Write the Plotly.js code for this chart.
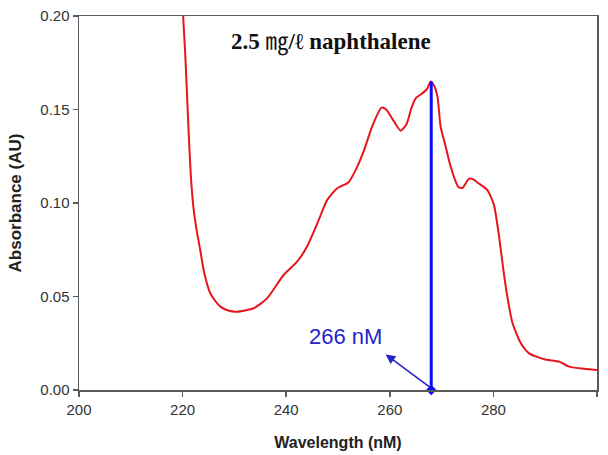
<!DOCTYPE html>
<html>
<head>
<meta charset="utf-8">
<script src="https://cdn.plot.ly/plotly-3.0.1.min.js"></script>
<style>html,body{margin:0;padding:0;background:#fff;}#chart{width:608px;height:455px;}</style>
</head>
<body>
<div id="chart"></div>
<script>
const wavelength = [219.7, 220.1, 220.5, 220.9, 221.3, 221.7, 222.2, 222.8, 223.4, 224.0, 224.7, 225.3, 226.2, 227.3, 228.8, 230.5, 233.7, 236.3, 239.5, 242.1, 244.0, 246.0, 247.9, 249.8, 252.0, 253.4, 255.0, 256.6, 258.4, 259.3, 260.5, 262.1, 263.2, 264.2, 265.0, 266.3, 267.2, 267.9, 268.5, 269.2, 269.8, 270.8, 271.8, 273.2, 274.0, 275.3, 276.2, 276.9, 278.8, 280.1, 281.1, 282.1, 283.0, 283.7, 285.3, 286.9, 289.8, 292.7, 294.6, 300.0];
const absorbance = [0.220, 0.200, 0.180, 0.155, 0.130, 0.110, 0.095, 0.084, 0.075, 0.065, 0.057, 0.052, 0.048, 0.0446, 0.0425, 0.0419, 0.0437, 0.049, 0.0615, 0.0686, 0.0766, 0.089, 0.1016, 0.1078, 0.111, 0.1176, 0.128, 0.141, 0.151, 0.150, 0.145, 0.1387, 0.142, 0.151, 0.156, 0.1587, 0.161, 0.165, 0.163, 0.157, 0.141, 0.130, 0.119, 0.1087, 0.108, 0.113, 0.1125, 0.111, 0.107, 0.099, 0.082, 0.0606, 0.045, 0.0357, 0.025, 0.0196, 0.0164, 0.0152, 0.0125, 0.0107];
const peakX = [268, 268];
const peakY = [0, 0.165];
const xTicks = [200, 220, 240, 260, 280, 300];
const yTicks = [0.00, 0.05, 0.10, 0.15, 0.20];
const titleText = '<b>2.5 </b>㎎<b>/ℓ naphthalene</b>';
const peakLabel = '266 nM';

const traces = [
  {x: wavelength, y: absorbance, type: 'scatter', mode: 'lines',
   line: {color: '#e8141c', width: 2, shape: 'spline', smoothing: 0.6}, hoverinfo: 'skip'},
  {x: peakX, y: peakY, type: 'scatter', mode: 'lines',
   line: {color: '#0a0aff', width: 3}, hoverinfo: 'skip'},
  {x: [peakX[0]], y: [peakY[0]], type: 'scatter', mode: 'markers',
   marker: {color: '#0a0aff', size: 8, symbol: 'diamond'}, cliponaxis: false, hoverinfo: 'skip'}
];

const axisCommon = {
  showgrid: false, zeroline: false, showline: true, mirror: true,
  linecolor: '#5a5a5a', linewidth: 1.5,
  ticks: 'outside', ticklen: 5, tickwidth: 1.5, tickcolor: '#5a5a5a',
  tickfont: {family: 'Liberation Sans, Arial, sans-serif', size: 15, color: '#333'}
};

const layout = {
  width: 608, height: 455,
  margin: {l: 79, r: 11, t: 16, b: 65},
  paper_bgcolor: '#fff', plot_bgcolor: '#fff',
  showlegend: false,
  xaxis: Object.assign({}, axisCommon, {
    range: [200, 300], tickvals: xTicks, ticktext: xTicks.map(String),
    title: {text: '<b>Wavelength (nM)</b>', font: {family: 'Liberation Sans, Arial, sans-serif', size: 16, color: '#222'}, standoff: 20}
  }),
  yaxis: Object.assign({}, axisCommon, {
    range: [0, 0.20], tickvals: yTicks, ticktext: yTicks.map(v => v.toFixed(2)),
    title: {text: '<b>Absorbance (AU)</b>', font: {family: 'Liberation Sans, Arial, sans-serif', size: 17, color: '#222'}, standoff: 14}
  }),
  annotations: [
    {xref: 'paper', yref: 'paper', x: 0.487, y: 0.928, text: titleText, showarrow: false,
     xanchor: 'center', yanchor: 'middle',
     font: {family: 'Liberation Serif, Times New Roman, Noto Sans CJK KR, serif', size: 23, color: '#111'}},
    {x: 251.5, y: 0.0285, xref: 'x', yref: 'y', text: peakLabel, showarrow: false,
     xanchor: 'center', yanchor: 'middle',
     font: {family: 'Liberation Sans, Arial, sans-serif', size: 22, color: '#2424c8'}},
    {x: 259.2, y: 0.019, xref: 'x', yref: 'y', axref: 'x', ayref: 'y', ax: 268, ay: 0.001,
     text: '', showarrow: true, arrowhead: 2, arrowsize: 1.2, arrowwidth: 1.6, arrowcolor: '#2424c8'}
  ]
};

Plotly.newPlot('chart', traces, layout, {staticPlot: true, displayModeBar: false});
</script>
</body>
</html>
